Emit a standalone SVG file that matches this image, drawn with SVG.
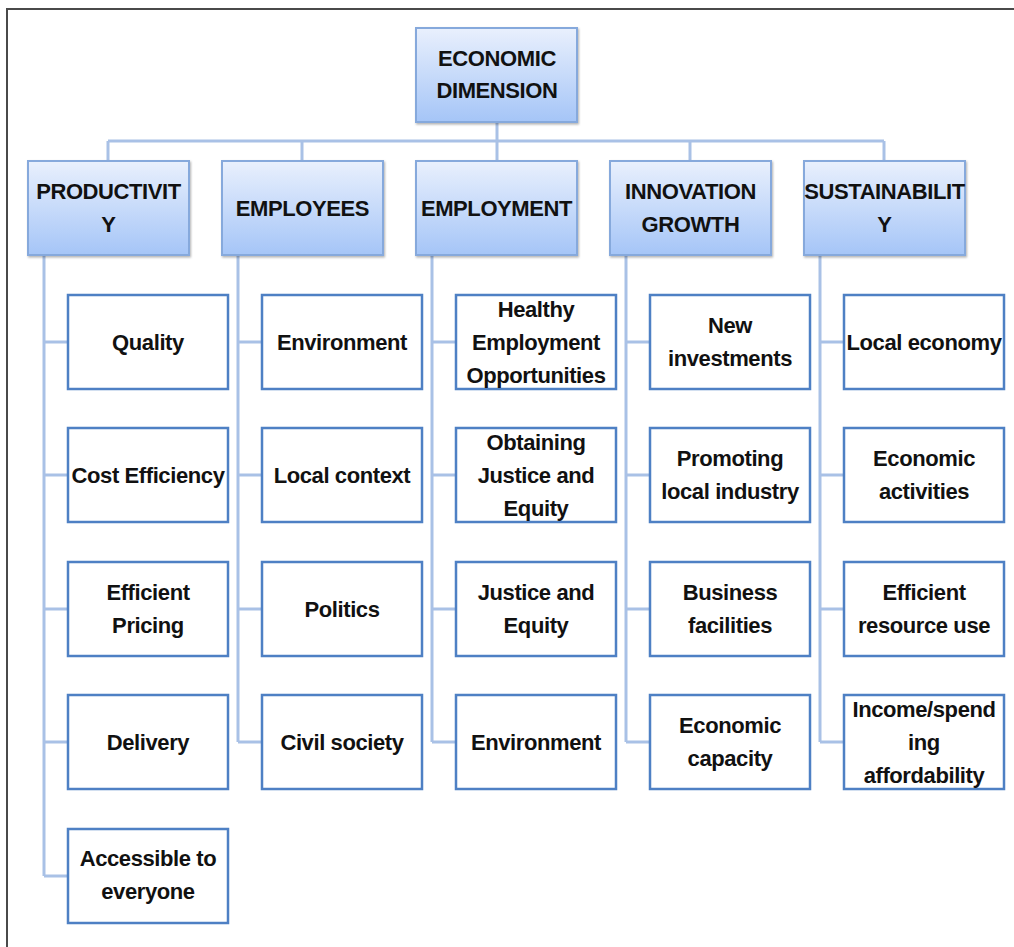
<svg xmlns="http://www.w3.org/2000/svg" width="1014" height="947" viewBox="0 0 1014 947">
<defs>
<linearGradient id="hg" x1="0" y1="0" x2="0" y2="1">
<stop offset="0" stop-color="#e9f0fd"/>
<stop offset="1" stop-color="#a5c5f7"/>
</linearGradient>
<filter id="sh" x="-10%" y="-10%" width="120%" height="120%">
<feDropShadow dx="1" dy="1.5" stdDeviation="1.2" flood-color="#000" flood-opacity="0.3"/>
</filter>
<style>
.hd{fill:url(#hg);stroke:#86a9dc;stroke-width:2;filter:url(#sh)}
.lf{fill:#fff;stroke:#4e80c4;stroke-width:2.5}
.cn{fill:none;stroke:#a9c1e6;stroke-width:3}
text{font-family:"Liberation Sans",Arial,sans-serif;font-weight:bold;font-size:22px;letter-spacing:-0.4px;fill:#111;text-anchor:middle}
.fr{fill:none;stroke:#4a4a4a;stroke-width:2}
</style>
</defs>
<rect width="1014" height="947" fill="#fff"/>
<path class="fr" d="M7,947 V9 H1014"/>
<g id="connectors">
<path class="cn" d="M497,122 V141 M108,141 H884 M108,141 V161 M302,141 V161 M497,141 V161 M690,141 V161 M884,141 V161"/>
<path class="cn" d="M44,255 V876 M44,342 H68 M44,475 H68 M44,609 H68 M44,742 H68 M44,876 H68"/>
<path class="cn" d="M238,255 V742 M238,342 H262 M238,475 H262 M238,609 H262 M238,742 H262"/>
<path class="cn" d="M432,255 V742 M432,342 H456 M432,475 H456 M432,609 H456 M432,742 H456"/>
<path class="cn" d="M626,255 V742 M626,342 H650 M626,475 H650 M626,609 H650 M626,742 H650"/>
<path class="cn" d="M820,255 V742 M820,342 H844 M820,475 H844 M820,609 H844 M820,742 H844"/>
</g>
<g id="root"><rect class="hd" x="416" y="28" width="161" height="94"/><text x="497" y="66">ECONOMIC</text><text x="497" y="98">DIMENSION</text></g>
<g id="productivity"><rect class="hd" x="28" y="161" width="161" height="94"/><text x="108.5" y="199">PRODUCTIVIT</text><text x="108.5" y="232">Y</text></g>
<g id="employees"><rect class="hd" x="222" y="161" width="161" height="94"/><text x="302.5" y="216">EMPLOYEES</text></g>
<g id="employment"><rect class="hd" x="416" y="161" width="161" height="94"/><text x="496.5" y="216">EMPLOYMENT</text></g>
<g id="innovation"><rect class="hd" x="610" y="161" width="161" height="94"/><text x="690.5" y="199">INNOVATION</text><text x="690.5" y="232">GROWTH</text></g>
<g id="sustainability"><rect class="hd" x="804" y="161" width="161" height="94"/><text x="884.5" y="199" letter-spacing="-0.7">SUSTAINABILIT</text><text x="884.5" y="232">Y</text></g>

<g id="quality"><rect class="lf" x="68" y="295" width="160" height="94"/><text x="148" y="350">Quality</text></g>
<g id="cost-efficiency"><rect class="lf" x="68" y="428" width="160" height="94"/><text x="148" y="483">Cost Efficiency</text></g>
<g id="efficient-pricing"><rect class="lf" x="68" y="562" width="160" height="94"/><text x="148" y="600">Efficient</text><text x="148" y="633">Pricing</text></g>
<g id="delivery"><rect class="lf" x="68" y="695" width="160" height="94"/><text x="148" y="750">Delivery</text></g>
<g id="accessible"><rect class="lf" x="68" y="829" width="160" height="94"/><text x="148" y="866">Accessible to</text><text x="148" y="899">everyone</text></g>

<g id="environment1"><rect class="lf" x="262" y="295" width="160" height="94"/><text x="342" y="350">Environment</text></g>
<g id="local-context"><rect class="lf" x="262" y="428" width="160" height="94"/><text x="342" y="483">Local context</text></g>
<g id="politics"><rect class="lf" x="262" y="562" width="160" height="94"/><text x="342" y="617">Politics</text></g>
<g id="civil-society"><rect class="lf" x="262" y="695" width="160" height="94"/><text x="342" y="750">Civil society</text></g>

<g id="healthy"><rect class="lf" x="456" y="295" width="160" height="94"/><text x="536" y="317">Healthy</text><text x="536" y="350">Employment</text><text x="536" y="383">Opportunities</text></g>
<g id="obtaining"><rect class="lf" x="456" y="428" width="160" height="94"/><text x="536" y="450">Obtaining</text><text x="536" y="483">Justice and</text><text x="536" y="516">Equity</text></g>
<g id="justice"><rect class="lf" x="456" y="562" width="160" height="94"/><text x="536" y="600">Justice and</text><text x="536" y="633">Equity</text></g>
<g id="environment2"><rect class="lf" x="456" y="695" width="160" height="94"/><text x="536" y="750">Environment</text></g>

<g id="new-investments"><rect class="lf" x="650" y="295" width="160" height="94"/><text x="730" y="333">New</text><text x="730" y="366">investments</text></g>
<g id="promoting"><rect class="lf" x="650" y="428" width="160" height="94"/><text x="730" y="466">Promoting</text><text x="730" y="499">local industry</text></g>
<g id="business"><rect class="lf" x="650" y="562" width="160" height="94"/><text x="730" y="600">Business</text><text x="730" y="633">facilities</text></g>
<g id="economic-capacity"><rect class="lf" x="650" y="695" width="160" height="94"/><text x="730" y="733">Economic</text><text x="730" y="766">capacity</text></g>

<g id="local-economy"><rect class="lf" x="844" y="295" width="160" height="94"/><text x="924" y="350">Local economy</text></g>
<g id="economic-activities"><rect class="lf" x="844" y="428" width="160" height="94"/><text x="924" y="466">Economic</text><text x="924" y="499">activities</text></g>
<g id="resource-use"><rect class="lf" x="844" y="562" width="160" height="94"/><text x="924" y="600">Efficient</text><text x="924" y="633">resource use</text></g>
<g id="income"><rect class="lf" x="844" y="695" width="160" height="94"/><text x="924" y="717">Income/spend</text><text x="924" y="750">ing</text><text x="924" y="783">affordability</text></g>
</svg>
